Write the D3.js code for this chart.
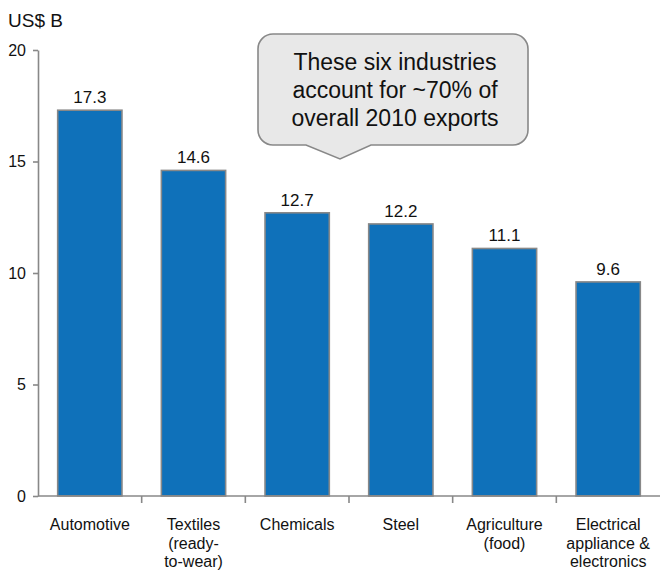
<!DOCTYPE html>
<html>
<head>
<meta charset="utf-8">
<script src="https://cdn.jsdelivr.net/npm/d3@7/dist/d3.min.js"></script>
<style>
  html, body { margin: 0; padding: 0; background: #fff; }
  svg { display: block; font-family: Arial, "Liberation Sans", sans-serif; }
</style>
</head>
<body>
<svg id="chart" width="660" height="570"></svg>
<script>
// Export value by industry, 2010 (US$ billions)
const categories = [
  ["Automotive"],
  ["Textiles", "(ready-", "to-wear)"],
  ["Chemicals"],
  ["Steel"],
  ["Agriculture", "(food)"],
  ["Electrical", "appliance &", "electronics"]
];
const values = [17.3, 14.6, 12.7, 12.2, 11.1, 9.6];
const yTicks = [0, 5, 10, 15, 20];
const unitLabel = "US$ B";
const calloutLines = ["These six industries", "account for ~70% of", "overall 2010 exports"];

const svg = d3.select("#chart");
const margin = { left: 38, top: 50, right: 0, bottom: 74 };
const W = 660, H = 570;
const plotBottom = H - margin.bottom;

const keys = categories.map(c => c.join(" "));
const x = d3.scaleBand()
  .domain(keys)
  .range([margin.left, W - margin.right])
  .paddingInner(0.38)
  .paddingOuter(0.19);

const y = d3.scaleLinear()
  .domain([0, 20])
  .range([plotBottom, margin.top]);

const grey = "#888888";

// Unit label
svg.append("text")
  .attr("x", 8).attr("y", 27)
  .attr("font-size", 19)
  .attr("fill", "#111")
  .text(unitLabel);

// Bars
svg.append("g").selectAll("rect")
  .data(values)
  .join("rect")
  .attr("x", (d, i) => x(keys[i]))
  .attr("width", x.bandwidth())
  .attr("y", d => y(d))
  .attr("height", d => y(0) - y(d))
  .attr("fill", "#0f71ba")
  .attr("stroke", grey)
  .attr("stroke-width", 1.6);

// Value labels
svg.append("g").selectAll("text")
  .data(values)
  .join("text")
  .attr("x", (d, i) => x(keys[i]) + x.bandwidth() / 2)
  .attr("y", d => y(d) - 7)
  .attr("text-anchor", "middle")
  .attr("font-size", 17)
  .attr("fill", "#111")
  .text(d => d.toFixed(1));

// Y axis
const yAxis = svg.append("g")
  .attr("transform", `translate(${margin.left},0)`)
  .call(d3.axisLeft(y).tickValues(yTicks).tickSize(5).tickPadding(7).tickSizeOuter(0));
yAxis.select(".domain").attr("stroke", grey).attr("stroke-width", 1.6);
yAxis.selectAll(".tick line").attr("stroke", grey).attr("stroke-width", 1.6);
yAxis.selectAll(".tick text")
  .attr("font-size", 16).attr("fill", "#111")
  .attr("font-family", "Arial, 'Liberation Sans', sans-serif");

// X axis line with ticks on band boundaries
const xg = svg.append("g");
xg.append("line")
  .attr("x1", margin.left).attr("x2", W - margin.right)
  .attr("y1", plotBottom).attr("y2", plotBottom)
  .attr("stroke", grey).attr("stroke-width", 1.6);
const step = x.step();
const boundaries = keys.slice(1).map(k => x(k) - step * x.paddingInner() / 2);
xg.selectAll("line.tk")
  .data(boundaries)
  .join("line")
  .attr("class", "tk")
  .attr("x1", d => d).attr("x2", d => d)
  .attr("y1", plotBottom).attr("y2", plotBottom + 7)
  .attr("stroke", grey).attr("stroke-width", 1.6);

// Category labels (multi-line)
const lab = xg.selectAll("text.cat")
  .data(categories)
  .join("text")
  .attr("class", "cat")
  .attr("text-anchor", "middle")
  .attr("font-size", 16)
  .attr("fill", "#111")
  .attr("transform", (d, i) => `translate(${x(keys[i]) + x.bandwidth() / 2},${plotBottom + 34})`);
lab.selectAll("tspan")
  .data(d => d)
  .join("tspan")
  .attr("x", 0)
  .attr("y", (d, j) => j * 18.5)
  .text(d => d);

// Callout bubble
const bx = 258, by = 34, bw = 270, bh = 111, r = 15;
const tipX = 340, tipY = 159, baseL = 306, baseR = 371;
const path = d3.path();
path.moveTo(bx + r, by);
path.lineTo(bx + bw - r, by);
path.arcTo(bx + bw, by, bx + bw, by + r, r);
path.lineTo(bx + bw, by + bh - r);
path.arcTo(bx + bw, by + bh, bx + bw - r, by + bh, r);
path.lineTo(baseR, by + bh);
path.lineTo(tipX, tipY);
path.lineTo(baseL, by + bh);
path.lineTo(bx + r, by + bh);
path.arcTo(bx, by + bh, bx, by + bh - r, r);
path.lineTo(bx, by + r);
path.arcTo(bx, by, bx + r, by, r);
path.closePath();
svg.append("path")
  .attr("d", path.toString())
  .attr("fill", "#e8e8e8")
  .attr("stroke", grey)
  .attr("stroke-width", 1.6);

svg.append("g").selectAll("text")
  .data(calloutLines)
  .join("text")
  .attr("x", bx + bw / 2 + 2)
  .attr("y", (d, i) => 70 + i * 28)
  .attr("text-anchor", "middle")
  .attr("font-size", 23)
  .attr("fill", "#111")
  .text(d => d);
</script>
</body>
</html>
